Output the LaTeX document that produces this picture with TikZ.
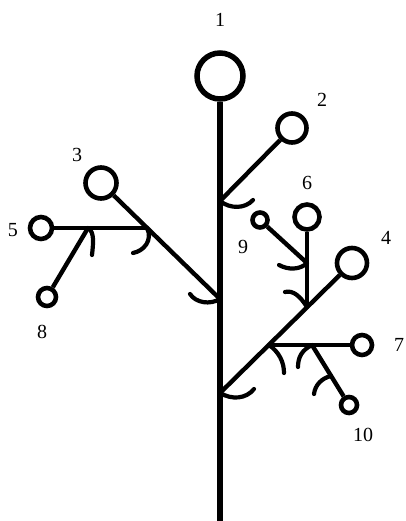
\documentclass[tikz,border=0pt]{standalone}
\usepackage{fontspec}
\setmainfont{Liberation Serif}
\usepackage{tikz}

\begin{document}
\begin{tikzpicture}[x=1pt,y=-1pt,
		bud/.style={circle,draw,line width=4.6pt,inner sep=0pt},
		num/.style={font=\fontsize{20}{20}\selectfont,inner sep=0pt},
		axis/.style={line width=4.4pt},
		bract/.style={line width=4.2pt,line cap=round}
	]
	\useasboundingbox (0,0) rectangle (405,521);

	% buds
	\draw
		node[bud,line width=5.5pt,minimum size=46pt] (n1)  at (220,76)  {}
		node[bud,minimum size=29pt]                  (n2)  at (292,128) {}
		node[bud,minimum size=31pt]                  (n3)  at (101,183) {}
		node[bud,minimum size=30pt]                  (n4)  at (352,263) {}
		node[bud,minimum size=22pt]                  (n5)  at (41,228)  {}
		node[bud,minimum size=25pt]                  (n6)  at (307,217) {}
		node[bud,minimum size=20pt]                  (n7)  at (362,345) {}
		node[bud,minimum size=18pt]                  (n8)  at (47,297)  {}
		node[bud,minimum size=15pt]                  (n9)  at (260,220) {}
		node[bud,minimum size=16pt]                  (n10) at (349,405) {}
	;

	% numbers
	\node[num] (t1)  at (220,20)  {1};
	\node[num] (t2)  at (322,100) {2};
	\node[num] (t3)  at (77,155)  {3};
	\node[num] (t4)  at (386,238) {4};
	\node[num] (t5)  at (13,230)  {5};
	\node[num] (t6)  at (307,183) {6};
	\node[num] (t7)  at (399,345) {7};
	\node[num] (t8)  at (42,332)  {8};
	\node[num] (t9)  at (243,247) {9};
	\node[num] (t10) at (363,435) {10};

	% branching points
	\coordinate (base) at (220,521);
	\coordinate (j2)  at (220,201);
	\coordinate (j3)  at (220,299);
	\coordinate (j4)  at (220,393);
	\coordinate (j5)  at (147,228);
	\coordinate (j8)  at (88,228);
	\coordinate (j6)  at (307,307);
	\coordinate (j9)  at (307,263);
	\coordinate (j7)  at (269,345);
	\coordinate (j10) at (312,345);
	\coordinate (l10) at (331,376);

	% axes
	\draw[axis,line width=6pt] (n1) -- (base);
	\draw[axis] (n2) -- (j2);
	\draw[axis] (n3) -- (j3);
	\draw[axis] (n4) -- (j4);
	\draw[axis] (n5) -- (j5);
	\draw[axis] (n8) -- (j8);
	\draw[axis] (n6) -- (j6);
	\draw[axis] (n9) -- (j9);
	\draw[axis] (n7) -- (j7);
	\draw[axis] (n10) -- (j10);

	% bracts
	\draw[bract] (j2) .. controls (230,209) and (245,209) .. (253,200);
	\draw[bract] (j3) .. controls (210,305) and (196,303) .. (190,294);
	\draw[bract] (j4) .. controls (232,400) and (246,399) .. (254,389);
	\draw[bract] (j5) .. controls (153,240) and (144,251) .. (133,253);
	\draw[bract] (j8) .. controls (95,232) and (93,245) .. (92,255);
	\draw[bract] (j9) .. controls (300,270) and (288,270) .. (279,265);
	\draw[bract] (j6) .. controls (300,296) and (293,290) .. (285,292);
	\draw[bract] (j7) .. controls (279,352) and (284,362) .. (284,373);
	\draw[bract] (j10) .. controls (302,350) and (298,357) .. (298,367);
	\draw[bract] (l10) .. controls (322,378) and (315,385) .. (314,394);
\end{tikzpicture}
\end{document}
